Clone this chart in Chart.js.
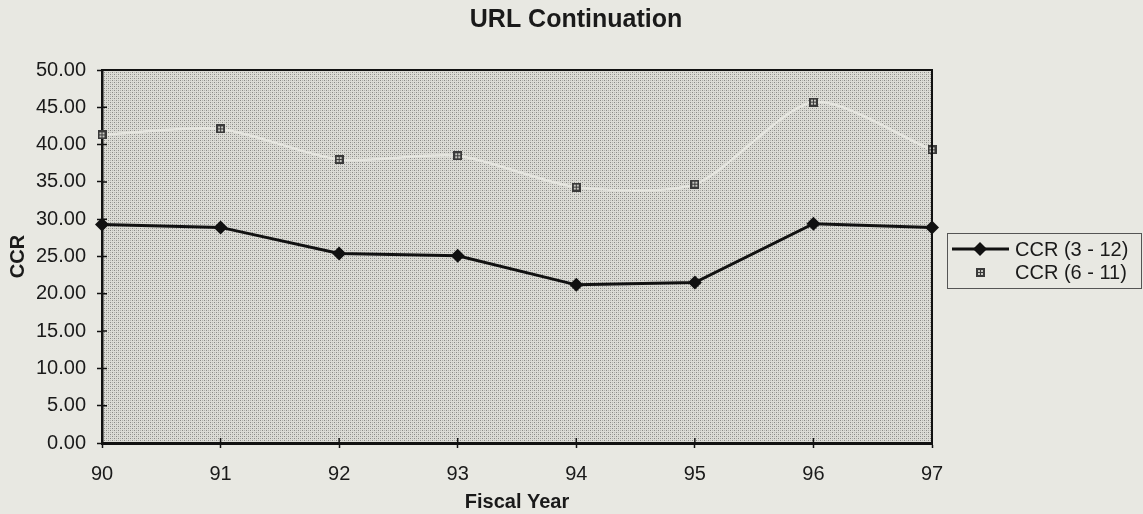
<!DOCTYPE html>
<html>
<head>
<meta charset="utf-8">
<script src="https://cdn.jsdelivr.net/npm/chart.js@4.4.1/dist/chart.umd.min.js"></script>
<style>
  html, body { margin: 0; padding: 0; background: #e8e8e2; }
  #wrap { position: relative; width: 1143px; height: 514px; }
</style>
</head>
<body>
<div id="wrap"><canvas id="c"></canvas></div>
<script>
// ---- data ----
const categories = ['90', '91', '92', '93', '94', '95', '96', '97'];
const ccr312 = [29.3, 28.9, 25.4, 25.1, 21.2, 21.5, 29.4, 28.9];
const ccr611 = [41.3, 42.1, 38.0, 38.5, 34.3, 34.7, 45.7, 39.3];
const seriesNames = ['CCR (3 - 12)', 'CCR (6 - 11)'];
const chartTitle = 'URL Continuation';
const xTitle = 'Fiscal Year';
const yTitle = 'CCR';

const FONT = 'Arial, "Liberation Sans", Helvetica, sans-serif';

// halftone pattern for plot area
function makePattern(ctx) {
  const t = document.createElement('canvas');
  t.width = 4; t.height = 4;
  const c = t.getContext('2d');
  c.fillStyle = '#dcdcd6';
  c.fillRect(0, 0, 4, 4);
  c.fillStyle = '#8a8a86';
  c.fillRect(0, 0, 1, 1);
  c.fillRect(2, 2, 1, 1);
  c.fillStyle = '#b4b4b0';
  c.fillRect(2, 0, 1, 1);
  c.fillRect(0, 2, 1, 1);
  return ctx.createPattern(t, 'repeat');
}

// marker image for CCR (6 - 11)
function makeMarker() {
  const m = document.createElement('canvas');
  m.width = 9; m.height = 9;
  const c = m.getContext('2d');
  c.fillStyle = '#3a3a3a';
  c.fillRect(0, 0, 9, 9);
  c.fillStyle = '#c8c8c2';
  c.fillRect(2, 2, 2, 2);
  c.fillRect(5, 2, 2, 2);
  c.fillRect(2, 5, 2, 2);
  c.fillRect(5, 5, 2, 2);
  return m;
}
const marker611 = makeMarker();

const decoPlugin = {
  id: 'deco',
  beforeDraw(chart) {
    const ctx = chart.ctx;
    const a = chart.chartArea;
    ctx.save();
    ctx.fillStyle = '#e8e8e2';
    ctx.fillRect(0, 0, chart.width, chart.height);
    ctx.fillStyle = makePattern(ctx);
    ctx.fillRect(a.left, a.top, a.right - a.left, a.bottom - a.top);
    ctx.restore();
  },
  afterDraw(chart) {
    const ctx = chart.ctx;
    const a = chart.chartArea;
    const ys = chart.scales.y, xs = chart.scales.x;
    ctx.save();
    // top and right border
    ctx.strokeStyle = '#111';
    ctx.lineWidth = 2;
    ctx.beginPath();
    ctx.moveTo(a.left, a.top);
    ctx.lineTo(a.right, a.top);
    ctx.lineTo(a.right, a.bottom);
    ctx.stroke();
    // inner tick marks
    ctx.lineWidth = 1.5;
    ctx.beginPath();
    ys.ticks.forEach((t, i) => {
      const y = ys.getPixelForTick(i);
      ctx.moveTo(a.left, y); ctx.lineTo(a.left + 5, y);
    });
    xs.ticks.forEach((t, i) => {
      const x = xs.getPixelForTick(i);
      ctx.moveTo(x, a.bottom); ctx.lineTo(x, a.bottom - 5);
    });
    ctx.stroke();

    // title
    ctx.fillStyle = '#1a1a1a';
    ctx.font = 'bold 25px ' + FONT;
    ctx.textAlign = 'center';
    ctx.textBaseline = 'middle';
    ctx.fillText(chartTitle, 576, 20);

    // legend
    const lx = 947, ly = 233, lw = 194, lh = 55;
    ctx.fillStyle = '#e8e8e2';
    ctx.fillRect(lx, ly, lw, lh);
    ctx.strokeStyle = '#555';
    ctx.lineWidth = 1;
    ctx.strokeRect(lx + 0.5, ly + 0.5, lw, lh);
    const y1 = ly + 16, y2 = ly + 39;
    ctx.strokeStyle = '#111';
    ctx.lineWidth = 3;
    ctx.beginPath();
    ctx.moveTo(952, y1); ctx.lineTo(1009, y1);
    ctx.stroke();
    ctx.fillStyle = '#111';
    ctx.beginPath();
    ctx.moveTo(980, y1 - 7); ctx.lineTo(987, y1); ctx.lineTo(980, y1 + 7); ctx.lineTo(973, y1);
    ctx.closePath(); ctx.fill();
    ctx.drawImage(marker611, 976, y2 - 4);
    ctx.fillStyle = '#1a1a1a';
    ctx.font = '20px ' + FONT;
    ctx.textAlign = 'left';
    ctx.textBaseline = 'middle';
    ctx.fillText(seriesNames[0], 1015, y1 + 1);
    ctx.fillText(seriesNames[1], 1015, y2 + 1);
    ctx.restore();
  }
};

new Chart(document.getElementById('c'), {
  type: 'line',
  data: {
    labels: categories,
    datasets: [
      {
        label: seriesNames[1],
        data: ccr611,
        borderColor: '#e6e6e0',
        borderWidth: 2.5,
        tension: 0.25,
        pointStyle: marker611,
        pointRadius: 4.5,
        pointHoverRadius: 4.5,
        order: 2
      },
      {
        label: seriesNames[0],
        data: ccr312,
        borderColor: '#111',
        backgroundColor: '#111',
        borderWidth: 3,
        tension: 0,
        pointStyle: 'rectRot',
        pointRadius: 7,
        pointHoverRadius: 7,
        pointBorderWidth: 0,
        order: 1
      }
    ]
  },
  options: {
    responsive: true,
    maintainAspectRatio: false,
    animation: false,
    events: [],
    layout: { padding: { top: 70, right: 211, bottom: 0, left: 0 } },
    plugins: {
      legend: { display: false },
      title: { display: false },
      tooltip: { enabled: false }
    },
    scales: {
      x: {
        type: 'category',
        offset: false,
        grid: { offset: false, drawOnChartArea: false, drawTicks: true, tickLength: 5, color: '#111', tickWidth: 1.5 },
        border: { display: true, color: '#111', width: 3 },
        ticks: { color: '#1a1a1a', font: { family: FONT, size: 20 }, padding: 14, maxRotation: 0, autoSkip: false },
        title: { display: true, text: xTitle, color: '#1a1a1a', font: { family: FONT, size: 20, weight: 'bold' }, padding: 0 },
        afterFit(s) { s.height = 71; }
      },
      y: {
        min: 0,
        max: 50,
        grid: { drawOnChartArea: false, drawTicks: true, tickLength: 5, color: '#111', tickWidth: 1.5 },
        border: { display: true, color: '#111', width: 2.5 },
        ticks: {
          stepSize: 5,
          color: '#1a1a1a',
          font: { family: FONT, size: 20 },
          padding: 11,
          callback: v => Number(v).toFixed(2)
        },
        title: { display: true, text: yTitle, color: '#1a1a1a', font: { family: FONT, size: 20, weight: 'bold' }, padding: { top: 6, bottom: 0 } },
        afterFit(s) { s.width = 102; }
      }
    }
  },
  plugins: [decoPlugin]
});
</script>
</body>
</html>
